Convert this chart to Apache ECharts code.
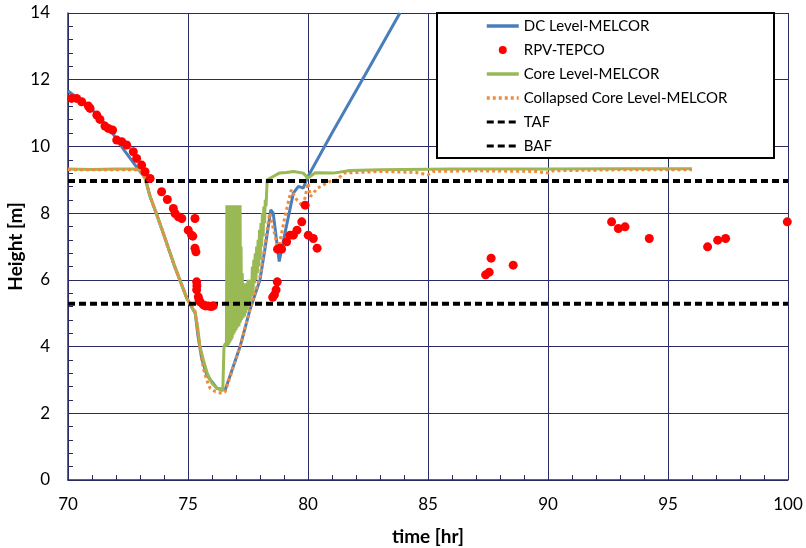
<!DOCTYPE html>
<html>
<head>
<meta charset="utf-8">
<script src="https://cdn.jsdelivr.net/npm/echarts@6/dist/echarts.min.js"></script>
<style>
html,body{margin:0;padding:0;background:#fff;}
#chart{width:806px;height:548px;}
</style>
</head>
<body>
<div id="chart"></div>
<script>
// ---- data (time [hr], height [m]) ----
const dcLevel = [
  [70,11.66],[70.5,11.4],[71.0,11.1],[71.67,10.59],[72.24,9.99],[72.86,9.38],[73.05,9.2],
  [73.2,9.08],[73.42,8.5],[73.7,7.95],[73.97,7.4],[74.42,6.45],[74.95,5.45],[75.3,5.0],
  [75.42,4.3],[75.57,3.65],[75.78,3.15],[76.2,2.75],[76.55,2.7],[76.61,2.75],[77.17,4.0],
  [77.58,5.1],[78.0,6.0],[78.2,6.9],[78.45,8.1],[78.55,8.0],[78.8,6.55],[79.04,7.4],
  [79.39,8.6],[79.6,8.8],[79.8,8.75],[80.0,9.1],[81.0,10.4],[82.375,12.14],[83.83,14.0]
];
const rpvTepco = [
  [70.15,11.44],[70.36,11.44],[70.57,11.34],[70.85,11.21],[70.92,11.14],[71.2,10.94],
  [71.33,10.81],[71.54,10.61],[71.68,10.54],[71.86,10.49],[72.03,10.19],[72.24,10.14],
  [72.45,10.04],[72.72,9.84],[72.86,9.64],[73.07,9.44],[73.21,9.24],[73.42,9.04],
  [73.9,8.64],[74.14,8.41],[74.39,8.14],[74.46,7.99],[74.6,7.89],[74.74,7.84],[75.29,7.84],
  [75.01,7.49],[75.15,7.34],[75.2,7.31],[75.29,6.95],[75.33,6.84],[75.36,5.94],[75.37,5.82],
  [75.36,5.7],[75.43,5.49],[75.46,5.4],[75.5,5.34],[75.64,5.25],[75.73,5.22],[75.85,5.22],
  [75.96,5.2],[76.05,5.22],
  [78.53,5.48],[78.6,5.55],[78.67,5.7],[78.72,5.94],[78.73,6.92],[78.83,6.95],[78.9,6.92],
  [79.11,7.14],[79.25,7.34],[79.39,7.34],[79.54,7.49],[79.74,7.74],[79.88,8.24],[80.01,7.34],
  [80.22,7.24],[80.38,6.95],
  [87.4,6.15],[87.55,6.23],[87.63,6.65],[88.55,6.44],[92.65,7.74],[92.93,7.54],[93.21,7.59],
  [94.22,7.24],[96.65,6.99],[97.07,7.19],[97.4,7.24],[99.97,7.74]
];
const coreLevel = [
  [70,9.32],[71,9.31],[72,9.32],[72.87,9.32],[73.05,9.25],[73.2,9.08],[73.42,8.5],[73.7,7.95],
  [73.97,7.4],[74.42,6.45],[74.95,5.45],[75.3,5.0],[75.4,4.6],[75.5,4.0],[75.64,3.6],
  [75.8,3.2],[76.0,2.9],[76.2,2.75],[76.45,2.68],[76.5,2.7],[76.5,4.0],[76.56,4.1],[76.6,4.0],
  [76.62,8.24],[76.64,4.0],[76.66,8.24],[76.68,4.05],[76.70,8.24],[76.72,4.1],[76.74,8.24],
  [76.76,4.15],[76.78,8.24],[76.80,4.2],[76.82,8.24],[76.84,4.25],[76.86,8.24],[76.88,4.35],
  [76.90,8.24],[76.92,4.4],[76.94,8.24],[76.96,4.45],[76.98,8.24],[77.00,4.5],[77.02,8.24],
  [77.04,4.55],[77.06,8.24],[77.08,4.6],[77.10,8.24],[77.12,4.6],[77.14,8.24],[77.16,4.7],
  [77.17,8.24],[77.19,4.75],[77.21,7.0],[77.23,4.8],[77.26,6.2],[77.29,4.85],[77.32,5.9],
  [77.35,4.9],[77.38,5.8],[77.41,5.0],[77.44,5.9],[77.47,5.1],[77.50,6.0],[77.53,5.2],
  [77.56,6.0],[77.59,5.3],[77.62,6.0],[77.65,5.5],[77.68,6.4],[77.71,5.6],[77.74,6.6],
  [77.77,5.9],[77.80,6.8],[77.83,6.0],[77.86,7.0],[77.89,6.2],[77.92,7.2],[77.95,6.4],
  [77.98,7.5],[78.01,6.6],[78.04,7.7],[78.07,7.0],[78.10,8.0],[78.13,7.3],[78.16,8.2],
  [78.19,7.7],[78.22,8.4],[78.25,8.2],[78.3,9.0],[78.55,9.1],[78.8,9.2],[79.1,9.22],
  [79.4,9.25],[79.8,9.2],[80.0,9.05],[80.3,9.21],[81.05,9.2],[81.75,9.28],[83,9.3],
  [86,9.32],[90,9.32],[93,9.33],[96,9.33]
];
const collapsedLevel = [
  [70,9.3],[72.87,9.3],[73.05,9.23],[73.2,9.05],[73.42,8.5],[73.7,7.95],[73.97,7.4],
  [74.42,6.45],[74.95,5.45],[75.3,5.05],[75.4,4.5],[75.5,3.9],[75.64,3.35],[75.78,3.0],[75.92,2.75],
  [76.13,2.65],[76.4,2.6],[76.55,2.65],[77.17,4.0],[77.58,5.1],[78.0,6.1],[78.2,7.0],[78.4,8.0],
  [78.6,7.4],[78.76,6.9],[79.04,7.9],[79.3,8.7],[79.53,8.4],[79.8,8.2],[80.0,8.9],[80.1,8.5],
  [80.4,8.75],[80.9,8.95],[81.2,9.0],[81.5,9.2],[83,9.25],[84.5,9.22],[85.0,9.15],[85.2,9.25],
  [87,9.27],[89.5,9.25],[90,9.2],[90.2,9.27],[93,9.3],[96,9.3]
];
const tafLevel = 8.96;
const bafLevel = 5.28;
const xRange = [70, 100];
const yRange = [0, 14];

const gridColor = '#2b2b63';
const font = 'Lato, "Open Sans", sans-serif';

const chart = echarts.init(document.getElementById('chart'), null, {renderer: 'canvas'});
const option = {
  animation: false,
  backgroundColor: '#fff',
  grid: {left: 68, right: 18, top: 13, bottom: 68, containLabel: false, outerBoundsMode: 'none'},
  xAxis: {
    type: 'value', min: xRange[0], max: xRange[1], interval: 5,
    name: 'time [hr]', nameLocation: 'middle', nameGap: 47, nameMoveOverlap: false,
    nameTextStyle: {fontFamily: font, fontSize: 19, fontWeight: 'bold', color: '#000'},
    axisLine: {show: true, lineStyle: {color: gridColor, width: 1.5}},
    axisTick: {show: true, inside: true, length: 5, lineStyle: {color: gridColor}},
    minorTick: {show: true, splitNumber: 5, length: 5, lineStyle: {color: gridColor}},
    splitLine: {show: true, lineStyle: {color: gridColor, width: 1}},
    axisLabel: {fontFamily: font, fontSize: 17, color: '#000', margin: 16}
  },
  yAxis: {
    type: 'value', min: yRange[0], max: yRange[1], interval: 2,
    name: 'Height [m]', nameLocation: 'middle', nameGap: 43, nameMoveOverlap: false,
    nameTextStyle: {fontFamily: font, fontSize: 19, fontWeight: 'bold', color: '#000'},
    axisLine: {show: true, lineStyle: {color: gridColor, width: 1.5}},
    axisTick: {show: true, inside: true, length: 5, lineStyle: {color: gridColor}},
    minorTick: {show: true, splitNumber: 5, length: 5, lineStyle: {color: gridColor}},
    splitLine: {show: true, lineStyle: {color: gridColor, width: 1}},
    axisLabel: {fontFamily: font, fontSize: 17, color: '#000', margin: 18}
  },
  graphic: [{
    type: 'rect', z: 3,
    shape: {x: 437, y: 13, width: 337, height: 145},
    style: {fill: '#fff', stroke: '#000', lineWidth: 2}
  }],
  legend: {
    orient: 'vertical', left: 485, top: 18.5, padding: 0, z: 5,
    itemWidth: 32, itemHeight: 8, itemGap: 9,
    textStyle: {fontFamily: font, fontSize: 15, color: '#000'},
    data: [
      {name: 'DC Level-MELCOR', itemStyle: {opacity: 0}, lineStyle: {width: 3.5}},
      {name: 'RPV-TEPCO', icon: 'circle'},
      {name: 'Core Level-MELCOR', itemStyle: {opacity: 0}, lineStyle: {width: 3.5}},
      {name: 'Collapsed Core Level-MELCOR', itemStyle: {opacity: 0}, lineStyle: {width: 3.5, type: [3, 3]}},
      {name: 'TAF', itemStyle: {opacity: 0}, lineStyle: {width: 3, type: [7, 4]}},
      {name: 'BAF', itemStyle: {opacity: 0}, lineStyle: {width: 3, type: [7, 4]}}
    ]
  },
  series: [
    {name: 'DC Level-MELCOR', type: 'line', data: dcLevel, symbol: 'none', z: 2,
     color: '#4a7ebb', lineStyle: {color: '#4a7ebb', width: 3}},
    {name: 'Core Level-MELCOR', type: 'line', data: coreLevel, symbol: 'none', z: 2,
     color: '#98b954', lineStyle: {color: '#98b954', width: 3}},
    {name: 'Collapsed Core Level-MELCOR', type: 'line', data: collapsedLevel, symbol: 'none', z: 2,
     color: '#ec8c40', lineStyle: {color: '#ec8c40', width: 3, type: [3, 3]}},
    {name: 'TAF', type: 'line', data: [[xRange[0], tafLevel], [xRange[1], tafLevel]], symbol: 'none', z: 2,
     color: '#000', lineStyle: {color: '#000', width: 4, type: [7, 4]}},
    {name: 'BAF', type: 'line', data: [[xRange[0], bafLevel], [xRange[1], bafLevel]], symbol: 'none', z: 2,
     color: '#000', lineStyle: {color: '#000', width: 4, type: [7, 4]}},
    {name: 'RPV-TEPCO', type: 'scatter', data: rpvTepco, symbol: 'circle', symbolSize: 9, z: 2,
     color: '#ff0000', itemStyle: {color: '#ff0000', opacity: 1}}
  ]
};
chart.setOption(option);
</script>
</body>
</html>
